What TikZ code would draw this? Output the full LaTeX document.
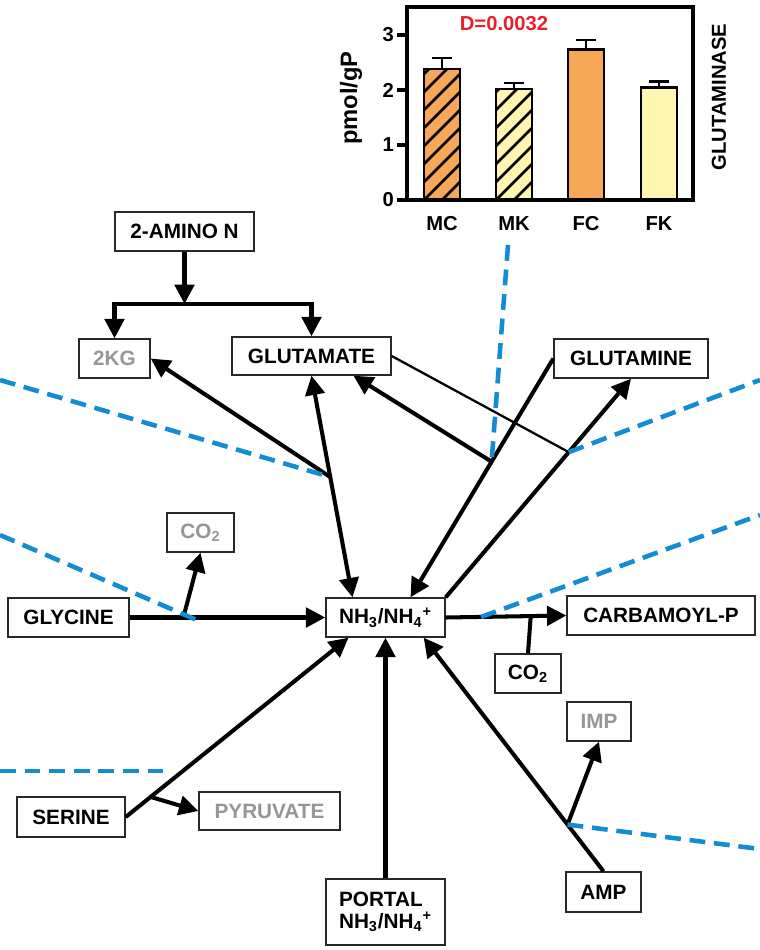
\documentclass[tikz,border=0pt]{standalone}
\usepackage{fontspec}
\setmainfont{Liberation Sans}
\usetikzlibrary{positioning}
\usetikzlibrary{calc}
\usetikzlibrary{arrows.meta}

\definecolor{boxline}{RGB}{40,40,40}
\definecolor{faded}{RGB}{150,150,150}
\definecolor{cutblue}{RGB}{20,140,210}
\definecolor{pred}{RGB}{232,32,42}
\definecolor{barorange}{RGB}{246,168,88}
\definecolor{baryellow}{RGB}{255,246,178}

\tikzset{
    box/.style={draw=boxline, line width=0.8pt, fill=white, inner sep=0pt,
        font=\fontsize{11.8}{12.5}\selectfont\bfseries},
    fadedbox/.style={box, text=faded},
    flow/.style={line width=2.3pt, -{Triangle[length=11pt,width=11pt]}},
    link/.style={line width=2.3pt},
    thinlink/.style={line width=1.3pt},
    cutline/.style={draw=cutblue, line width=2.6pt, dash pattern=on 9pt off 5pt},
    frame/.style={line width=1.8pt},
    barline/.style={line width=1.5pt},
    hatch/.style={line width=1.5pt},
    ticklab/.style={font=\fontsize{11.5}{12}\selectfont\bfseries, inner sep=1pt},
}

\begin{document}
\begin{tikzpicture}[x=0.02cm, y=-0.02cm]
    \useasboundingbox (0,0) rectangle (760,950);

    % Glutaminase chart
    \foreach \lab/\x/\h/\e/\col/\hat in {MC/424/2.38/2.58/barorange/1, MK/496/2.02/2.13/baryellow/1,
        FC/568/2.74/2.91/barorange/0, FK/641/2.04/2.16/baryellow/0} {
        \fill[\col] (\x,200) rectangle ++(36,{-55*\h});
        \ifnum\hat=1
            \begin{scope}
                \clip (\x,200) rectangle ++(36,{-55*\h});
                \foreach \k in {0,...,11} \draw[hatch] (\x,{236-18*\k}) -- ++(60,-60);
            \end{scope}
        \fi
        \draw[barline] (\x,200) rectangle ++(36,{-55*\h});
        \draw[barline] ({\x+18},{200-55*\h}) -- ({\x+18},{200-55*\e})
            ({\x+8},{200-55*\e}) -- ({\x+28},{200-55*\e});
        \node[ticklab] (l\lab) at ({\x+18},224) {\lab};
    }
    \draw[frame] (407,7) rectangle (693,200);
    \foreach \v/\yy in {0/200,1/145,2/90,3/35} {
        \draw[frame] (397,\yy) -- (407,\yy);
        \node[ticklab, anchor=east] (t\v) at (396,\yy) {\v};
    }
    \node[ticklab, text=pred] (pval) at (504,24) {D=0.0032};
    \node[ticklab, font=\fontsize{13.5}{14}\selectfont\bfseries, rotate=90] (yaxis) at (351,98) {pmol/gP};
    \node[ticklab, rotate=90] (enzyme) at (719,97) {GLUTAMINASE};

    % Pathway boxes
    \node[box, minimum width=2.78cm, minimum height=0.78cm] (amino) at (184.5,231.5) {2-AMINO N};
    \node[fadedbox, minimum width=1.42cm, minimum height=0.78cm] (kg) at (114.5,358.5) {2KG};
    \node[box, minimum width=3.18cm, minimum height=0.76cm] (glu) at (311.5,356) {GLUTAMATE};
    \node[box, minimum width=3.08cm, minimum height=0.78cm] (gln) at (631,358.5) {GLUTAMINE};
    \node[fadedbox, minimum width=1.34cm, minimum height=0.78cm] (co2a) at (200.5,532.5) {CO\textsubscript{2}};
    \node[box, minimum width=2.42cm, minimum height=0.78cm] (gly) at (68.5,617.5) {GLYCINE};
    \node[box, minimum width=2.38cm, minimum height=0.78cm] (nh) at (385.5,617.5) {NH\textsubscript{3}/NH\textsubscript{4}\textsuperscript{+}};
    \node[box, minimum width=3.76cm, minimum height=0.78cm] (carb) at (661,615.5) {CARBAMOYL-P};
    \node[box, minimum width=1.32cm, minimum height=0.78cm] (co2b) at (528,673.5) {CO\textsubscript{2}};
    \node[fadedbox, minimum width=1.28cm, minimum height=0.78cm] (imp) at (599,721.5) {IMP};
    \node[box, minimum width=2.16cm, minimum height=0.8cm] (ser) at (71,817) {SERINE};
    \node[fadedbox, minimum width=2.82cm, minimum height=0.76cm] (pyr) at (269.5,811) {PYRUVATE};
    \node[box, minimum width=2.38cm, minimum height=1.32cm, align=left] (portal) at (385.5,912) {PORTAL\\NH\textsubscript{3}/NH\textsubscript{4}\textsuperscript{+}};
    \node[box, minimum width=1.5cm, minimum height=0.8cm] (amp) at (603.5,892) {AMP};

    % Junctions
    \coordinate (split) at (184.5,304);
    \coordinate (nhGlu) at ($(nh.north)+(-33,0)$);
    \coordinate (j1) at ($(glu.south)!0.457!(nhGlu)$);
    \coordinate (nhGln) at ($(nh.north)+(25,0)$);
    \coordinate (j2) at ($(gln.west)!0.432!(nhGln)$);
    \coordinate (j3) at ($(nh.north east)!0.664!(gln.south)$);
    \coordinate (j4) at ($(gly.east)!0.274!(nh.west)$);
    \coordinate (j5) at ($(nh.east)!0.705!(carb.west)$);
    \coordinate (nhSer) at ($(nh.south)+(-37,0)$);
    \coordinate (j6) at ($(ser.east)!0.112!(nhSer)$);
    \coordinate (nhAmp) at ($(nh.south east)+(-22,0)$);
    \coordinate (j7) at ($(amp.north)!0.2!(nhAmp)$);

    % Edges
    \draw[flow] (amino) -- (split);
    \draw[flow] (split) -| (kg.north);
    \draw[flow] (split) -| (glu.north);
    \draw[flow, {Triangle[length=11pt,width=11pt]}-{Triangle[length=11pt,width=11pt]}] (glu.south) -- (nhGlu);
    \draw[flow] (j1) -- (kg.east);
    \draw[flow] (gln.west) -- (nhGln);
    \draw[flow] (j2) -- ($(glu.south)+(42,0)$);
    \draw[flow] (nh.north east) -- (gln.south);
    \draw[thinlink] (glu.east) -- (j3);
    \draw[flow] (gly) -- (nh);
    \draw[flow] (j4) -- (co2a.south);
    \draw[flow] (nh.east) -- (carb.west);
    \draw[link] (co2b.north) -- (j5);
    \draw[flow] (ser.east) -- (nhSer);
    \draw[flow] (j6) -- (pyr.west);
    \draw[flow] (portal) -- (nh);
    \draw[flow] (amp.north) -- (nhAmp);
    \draw[flow] (j7) -- (imp.south);

    % Compartment borders
    \coordinate (cutA) at (0,380);
    \coordinate (cutB1) at (0,535);
    \coordinate (cutB2) at (199,621);
    \coordinate (cutC) at (508,245);
    \coordinate (cutD) at (760,380);
    \coordinate (cutE1) at (481,617);
    \coordinate (cutE2) at (760,515);
    \coordinate (cutF1) at (0,771);
    \coordinate (cutF2) at (167,771);
    \coordinate (cutG) at (760,849);
    \draw[cutline] (cutA) -- (j1);
    \draw[cutline] (cutB1) -- (cutB2);
    \draw[cutline] (cutC) -- (j2);
    \draw[cutline] (j3) -- (cutD);
    \draw[cutline] (cutE1) -- (cutE2);
    \draw[cutline] (cutF1) -- (cutF2);
    \draw[cutline] (j7) -- (cutG);
\end{tikzpicture}
\end{document}
